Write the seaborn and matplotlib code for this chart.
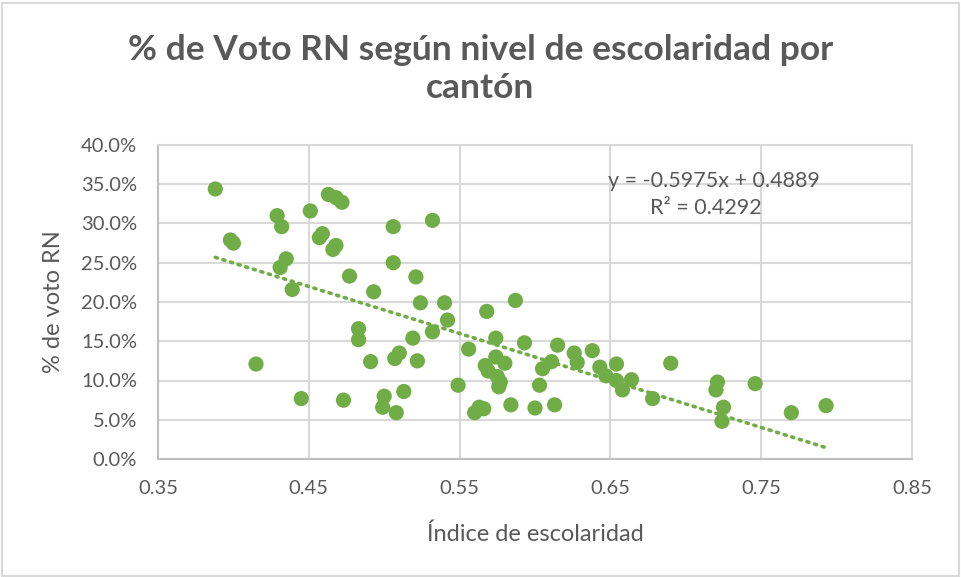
import numpy as np
import pandas as pd
import seaborn as sns
import matplotlib.pyplot as plt
from matplotlib.ticker import PercentFormatter, MultipleLocator
from matplotlib.patches import Rectangle

# Índice de escolaridad por cantón
indice = [0.388, 0.398, 0.400, 0.415, 0.429, 0.432, 0.431, 0.435, 0.439, 0.445,
          0.451, 0.457, 0.459, 0.463, 0.468, 0.472, 0.466, 0.468, 0.473, 0.477,
          0.483, 0.483, 0.491, 0.493, 0.499, 0.500, 0.506, 0.506, 0.507, 0.508,
          0.510, 0.513, 0.519, 0.521, 0.522, 0.524, 0.532, 0.532, 0.540, 0.542,
          0.549, 0.556, 0.560, 0.563, 0.566, 0.567, 0.568, 0.569, 0.574, 0.574,
          0.575, 0.577, 0.576, 0.580, 0.584, 0.587, 0.593, 0.600, 0.603, 0.605,
          0.611, 0.613, 0.615, 0.626, 0.628, 0.638, 0.643, 0.647, 0.654, 0.654,
          0.658, 0.664, 0.678, 0.690, 0.721, 0.720, 0.725, 0.724, 0.746, 0.770,
          0.793]
# % de voto RN
voto_rn = [0.344, 0.279, 0.275, 0.121, 0.310, 0.296, 0.244, 0.255, 0.216, 0.077,
           0.316, 0.282, 0.287, 0.337, 0.333, 0.327, 0.267, 0.272, 0.075, 0.233,
           0.166, 0.152, 0.124, 0.213, 0.066, 0.080, 0.296, 0.250, 0.128, 0.059,
           0.135, 0.086, 0.154, 0.232, 0.125, 0.199, 0.304, 0.162, 0.199, 0.177,
           0.094, 0.140, 0.059, 0.066, 0.064, 0.119, 0.188, 0.112, 0.154, 0.130,
           0.105, 0.098, 0.092, 0.122, 0.069, 0.202, 0.148, 0.065, 0.094, 0.115,
           0.124, 0.069, 0.145, 0.135, 0.123, 0.138, 0.117, 0.106, 0.121, 0.100,
           0.088, 0.101, 0.077, 0.122, 0.098, 0.088, 0.066, 0.048, 0.096, 0.059,
           0.068]

x_ticks = [0.35, 0.45, 0.55, 0.65, 0.75, 0.85]

GREEN = "#70AD47"
TEXT = "#595959"
GRID = "#D9D9D9"

df = pd.DataFrame({"indice": indice, "voto": voto_rn})

sns.set_style("white")
plt.rcParams['font.family'] = ['Lato', 'DejaVu Sans']

fig = plt.figure(figsize=(9.61, 5.77), dpi=100)
ax = fig.add_axes([158 / 961, 1 - 459 / 577, (912 - 158) / 961, (459 - 145) / 577])

ax.grid(True, color=GRID, linewidth=1.5, zorder=0)
ax.set_axisbelow(True)

sns.scatterplot(data=df, x="indice", y="voto", ax=ax, color=GREEN, s=120,
                edgecolor="none", zorder=3)
sns.regplot(data=df, x="indice", y="voto", ax=ax, scatter=False, ci=None,
            color=GREEN, line_kws=dict(linestyle=(0, (0.6, 1.6)), linewidth=2.6,
                                       dash_capstyle="round", zorder=2))

# trendline equation
ax.text(0.7187, 0.3546, "y = -0.5975x + 0.4889", ha="center", va="center",
        fontsize=15.5, color=TEXT, zorder=4)
ax.text(0.7134, 0.320, "R² = 0.4292", ha="center", va="center",
        fontsize=15.5, color=TEXT, zorder=4)

ax.set_xlim(0.35, 0.85)
ax.set_ylim(0, 0.40)
ax.set_xticks(x_ticks)
ax.set_xticklabels([f"{t:.2f}" for t in x_ticks])
ax.yaxis.set_major_locator(MultipleLocator(0.05))
ax.yaxis.set_major_formatter(PercentFormatter(xmax=1, decimals=1))
ax.tick_params(axis="both", length=0, labelsize=14.5, colors=TEXT)
ax.tick_params(axis="x", pad=15)
ax.tick_params(axis="y", pad=15)
for sp in ax.spines.values():
    sp.set_color(GRID)
    sp.set_linewidth(1.5)
ax.spines["left"].set_color("#BFBFBF")
ax.spines["bottom"].set_color("#BFBFBF")

ax.set_xlabel("Índice de escolaridad", fontsize=17, color=TEXT, labelpad=19)
ax.set_ylabel("% de voto RN", fontsize=17, color=TEXT, labelpad=12)

fig.text(0.5, 1 - 69 / 577, "% de Voto RN según nivel de escolaridad por\ncantón",
         ha="center", va="center", fontsize=25.5, fontweight="bold", color=TEXT,
         linespacing=1.25)

fig.patches.append(Rectangle((1.5 / 961, 1.5 / 577), 957 / 961, 573 / 577,
                             transform=fig.transFigure, fill=False,
                             edgecolor=GRID, linewidth=1.5))

fig.savefig("out.png", dpi=100)
